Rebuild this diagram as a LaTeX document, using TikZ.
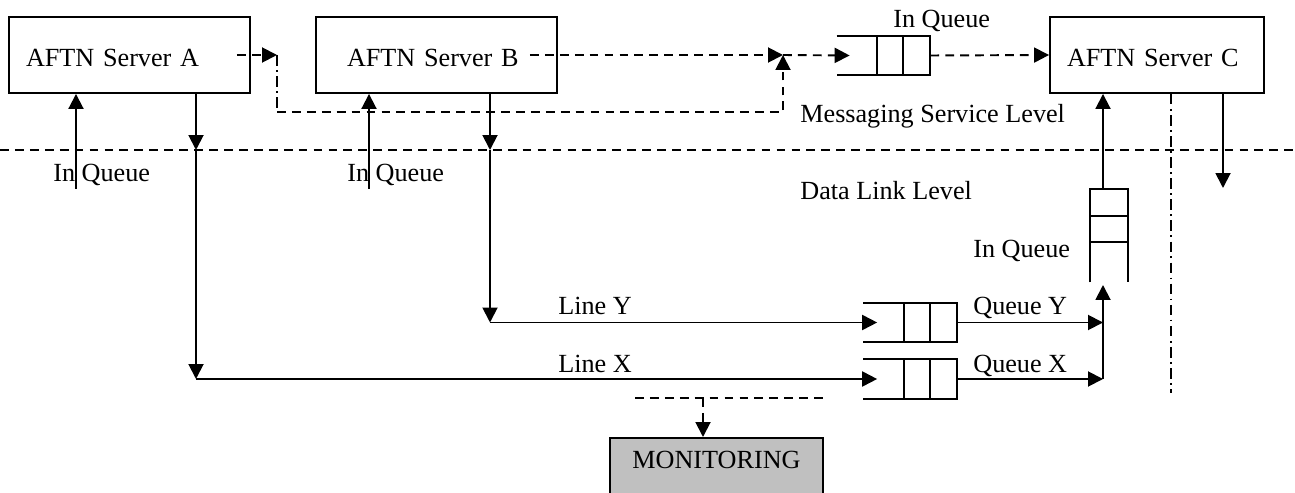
\documentclass[tikz,border=0pt]{standalone}
\usepackage{fontspec}
\setmainfont{Liberation Serif}
\usepackage{tikz}
\usetikzlibrary{positioning,arrows.meta}
\definecolor{mongray}{RGB}{192,192,192}

\begin{document}
\begin{tikzpicture}[x=0.02cm, y=-0.02cm, font=\fontsize{14.9}{17}\selectfont]
                \tikzstyle{server} = [rectangle, draw=black, line width=1.1pt, minimum height=1.52cm, text height=0.48cm, align=left]
                \tikzstyle{queue} = [rectangle, minimum width=1.86cm, minimum height=0.78cm, inner sep=0pt]
                \tikzstyle{txt} = [inner sep=0pt, anchor=base west]
                \tikzstyle{arrow} = [line width=1.1pt, -{Triangle[length=0.3cm,width=0.3cm]}]
                \tikzstyle{dasharrow} = [arrow, dash pattern=on 5pt off 3.5pt]
                \tikzstyle{dashline} = [line width=1.1pt, dash pattern=on 5pt off 3.5pt]
                \tikzstyle{dashdotline} = [line width=1.1pt, dash pattern=on 6pt off 2.5pt on 1pt off 2.5pt]
                \useasboundingbox (0,0) rectangle (1295,493);
                \clip (0,0) rectangle (1295,493);

                \node (srvA) [server, text width=4.14cm, inner xsep=0.34cm] at (129.5,55) {AFTN Server A};
                \node (srvB) [server, text width=3.58cm, inner xsep=0.62cm] at (436.5,55) {AFTN Server B};
                \node (srvC) [server, text width=3.60cm, inner xsep=0.34cm] at (1157,55) {AFTN Server C};
                \node (qin) [queue] at (883.5,55.5) {};
                \node (qy) [queue] at (910,322.5) {};
                \node (qx) [queue] at (910,379) {};
                \node (qc) [queue, minimum width=0.76cm, minimum height=1.86cm] at (1109,235.5) {};
                \node (mon) [rectangle, draw=black, line width=1.1pt, fill=mongray, minimum width=4.26cm, text height=0.42cm, text depth=1cm, inner ysep=0.2cm, anchor=north] at (716.5,437) {MONITORING};

                \node (lblInA) [txt] at (53,182) {In Queue};
                \node (lblInB) [txt] at (347,182) {In Queue};
                \node (lblInTop) [txt] at (893,28) {In Queue};
                \node (lblMsg) [txt] at (800,123) {Messaging Service Level};
                \node (lblData) [txt] at (800,200) {Data Link Level};
                \node (lblInC) [txt] at (973,257) {In Queue};
                \node (lblLineY) [txt] at (558,315) {Line Y};
                \node (lblLineX) [txt] at (558,372) {Line X};
                \node (lblQY) [txt] at (973,315) {Queue Y};
                \node (lblQX) [txt] at (973,372) {Queue X};

                \foreach \q in {qin,qy,qx} {
                    \draw [line width=1.1pt] (\q.north west) -- (\q.north east) -- (\q.south east) -- (\q.south west);
                    \draw [line width=1.1pt] ([xshift=-0.54cm]\q.north east) -- ([xshift=-0.54cm]\q.south east);
                    \draw [line width=1.1pt] ([xshift=-1.06cm]\q.north east) -- ([xshift=-1.06cm]\q.south east);
                }
                \draw [line width=1.1pt] (qc.south west) -- (qc.north west) -- (qc.north east) -- (qc.south east);
                \draw [line width=1.1pt] ([yshift=-0.54cm]qc.north west) -- ([yshift=-0.54cm]qc.north east);
                \draw [line width=1.1pt] ([yshift=-1.06cm]qc.north west) -- ([yshift=-1.06cm]qc.north east);

                \coordinate (lvlL) at (0,150);
                \coordinate (lvlR) at (1295,150);
                \coordinate (jA) at (277,55);
                \coordinate (jAd) at (277,112);
                \coordinate (jB) at (783,112);
                \coordinate (jM) at (783,55);
                \coordinate (inA) at (76,189);
                \coordinate (outA) at (196,150);
                \coordinate (cornA) at (196,379);
                \coordinate (inB) at (369,189);
                \coordinate (outB) at (490,150);
                \coordinate (cornB) at (490,322.5);
                \coordinate (mY) at (1103,322.5);
                \coordinate (mX) at (1103,379);
                \coordinate (mUp) at (1103,285);
                \coordinate (cSep) at (1171,393);
                \coordinate (cOut) at (1223,188);
                \coordinate (monL) at (635,398);
                \coordinate (monR) at (825,398);
                \coordinate (monTap) at (703,398);

                \draw [dashline] (lvlL) -- (lvlR);
                \draw [dasharrow] ([xshift=-0.28cm]srvA.east) -- (jA);
                \draw [dashdotline] (jA) -- (jAd);
                \draw [dasharrow] (jAd) -- (jB) -- (jM);
                \draw [dasharrow] ([xshift=-0.56cm]srvB.east) -- (jM);
                \draw [dasharrow] (jM) -- ([xshift=0.26cm]qin.west);
                \draw [dasharrow] (qin.east) -- (srvC.west);

                \draw [arrow] (inA) -- (inA |- srvA.south);
                \draw [arrow] (srvA.south -| outA) -- (outA);
                \draw [arrow] (outA) -- (cornA);
                \draw [arrow] (cornA) -- ([xshift=0.28cm]qx.west);
                \draw [arrow] (inB) -- (inB |- srvB.south);
                \draw [arrow] (srvB.south -| outB) -- (outB);
                \draw [arrow] (outB) -- (cornB);
                \draw [arrow] (cornB) -- ([xshift=0.28cm]qy.west);

                \draw [arrow] (qy.east) -- (mY);
                \draw [arrow] (qx.east) -- (mX);
                \draw [arrow] (mX) -- (mUp);
                \draw [arrow] (qc.north -| mY) -- (srvC.south -| mY);
                \draw [dashdotline] (srvC.south -| cSep) -- (cSep);
                \draw [arrow] (srvC.south -| cOut) -- (cOut);

                \draw [dashline] (monL) -- (monR);
                \draw [dasharrow] (monTap) -- (monTap |- mon.north);

            \end{tikzpicture}
\end{document}
